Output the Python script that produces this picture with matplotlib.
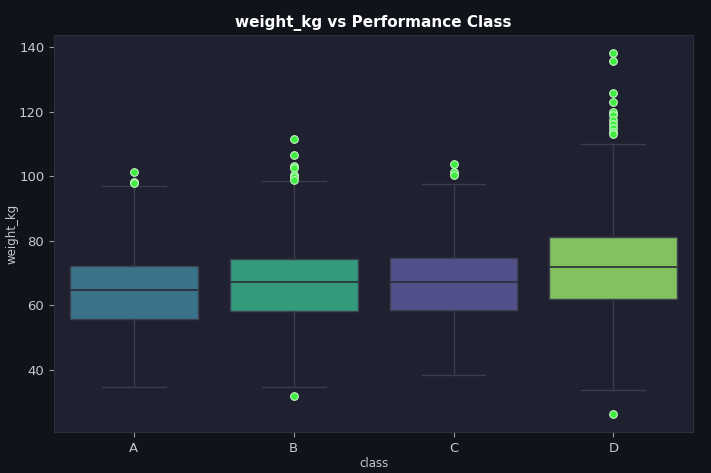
import numpy as np
import matplotlib
matplotlib.use('Agg')
import matplotlib.pyplot as plt

# values (kg)
classes = ['A', 'B', 'C', 'D']
q1 = [55.9, 58.2, 58.4, 61.9]
med = [64.6, 67.1, 67.3, 71.9]
q3 = [72.3, 74.2, 74.5, 81.2]
whis_lo = [34.6, 34.6, 38.3, 33.9]
whis_hi = [97.0, 98.4, 97.6, 110.0]
fliers_a = [101.3, 98.3, 98.0]
fliers_b = [111.6, 106.6, 103.2, 102.6, 100.4, 99.7, 98.9, 32.0]
fliers_c = [103.7, 101.4, 100.2]
fliers_d = [138.1, 135.7, 125.8, 122.9, 120.0, 118.9, 117.4, 116.2,
            114.9, 113.8, 113.0, 26.4]
fliers = [fliers_a, fliers_b, fliers_c, fliers_d]
box_colors = ['#3a7389', '#349a7c', '#51508a', '#82c160']

fig_bg = '#11131b'
ax_bg = '#1f2130'
text_col = '#c8c8cc'

fig = plt.figure(figsize=(7.11, 4.73), dpi=100, facecolor=fig_bg)
ax = fig.add_axes([0.076, 0.087, 0.899, 0.839])
ax.set_facecolor(ax_bg)

stats = []
for i in range(len(classes)):
    stats.append({'label': classes[i], 'q1': q1[i], 'med': med[i], 'q3': q3[i],
                  'whislo': whis_lo[i], 'whishi': whis_hi[i], 'fliers': fliers[i]})

bp = ax.bxp(stats, positions=range(len(classes)), widths=0.8, patch_artist=True,
            boxprops=dict(edgecolor='#3e4150', linewidth=1.0),
            medianprops=dict(color='#2a2c38', linewidth=1.2),
            whiskerprops=dict(color='#3a3d4c', linewidth=1.0),
            capprops=dict(color='#3a3d4c', linewidth=1.0),
            flierprops=dict(marker='o', markerfacecolor='#40ee40',
                            markeredgecolor='#c8f5c8', markersize=5.5,
                            markeredgewidth=0.8))
for patch, c in zip(bp['boxes'], box_colors):
    patch.set_facecolor(c)

ax.set_xlim(-0.5, 3.5)
ax.set_xticks(range(len(classes)))
ax.set_xticklabels(classes)
ax.set_yticks([40, 60, 80, 100, 120, 140])

for s in ax.spines.values():
    s.set_color('#2c2f3d')
    s.set_linewidth(0.8)
ax.tick_params(colors=text_col, labelsize=9.5, length=3.5, width=0.8)
ax.tick_params(axis='both', color='#9a9aa0')

ax.set_title('weight_kg vs Performance Class', color='white', fontsize=11,
             fontweight='bold', pad=6)
ax.set_ylabel('weight_kg', color=text_col, fontsize=8.5, labelpad=0)
ax.set_xlabel('class', color=text_col, fontsize=8.5, labelpad=2)

fig.savefig('out.png', dpi=100, facecolor=fig_bg)
